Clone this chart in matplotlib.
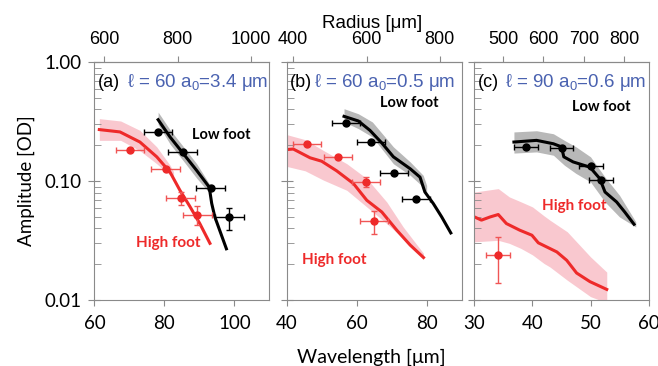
import numpy as np
import matplotlib
matplotlib.use("Agg")
import matplotlib.pyplot as plt
from matplotlib.ticker import LogLocator, NullFormatter, FixedLocator

plt.rcParams['font.family'] = ['Lato', 'DejaVu Sans']
plt.rcParams['mathtext.default'] = 'regular'

RED = '#ee2a2a'
RED_BAND = '#f7b6c0'
GRAY_BAND = '#9a9a9a'
BLUE = '#4a62b0'
SPINE = '#8a8a8a'

# ---- panel (a): l = 60 ----
a_red_x = [61.4, 67.3, 73.0, 77.8, 81.6, 84.4, 87.3, 90.1, 93.0]
a_red_y = [0.271, 0.259, 0.213, 0.160, 0.119, 0.084, 0.061, 0.044, 0.030]
a_redband_x = [61.4, 67.5, 73.0, 77.8, 81.6, 82.6]
a_redband_lo = [0.22, 0.22, 0.18, 0.14, 0.112, 0.108]
a_redband_hi = [0.335, 0.32, 0.267, 0.194, 0.136, 0.120]
a_blk_x = [78.2, 81.6, 85.4, 89.2, 92.8, 93.5, 94.4, 97.7]
a_blk_y = [0.328, 0.235, 0.170, 0.123, 0.089, 0.065, 0.050, 0.027]
a_gray_x = [78.2, 81.6, 85.4, 89.2, 92.8]
a_gray_lo = [0.30, 0.205, 0.148, 0.106, 0.080]
a_gray_hi = [0.38, 0.27, 0.195, 0.140, 0.095]
a_rpt_x = [70.2, 80.4, 84.6, 89.4]
a_rpt_y = [0.181, 0.127, 0.072, 0.052]
a_rpt_ylo = [0.181, 0.127, 0.0625, 0.0425]
a_rpt_yhi = [0.181, 0.127, 0.0813, 0.0616]
a_bpt_x = [78.2, 85.2, 93.2, 98.5]
a_bpt_y = [0.257, 0.176, 0.0877, 0.050]
a_bpt_ylo = [0.257, 0.176, 0.0877, 0.0392]
a_bpt_yhi = [0.257, 0.176, 0.0877, 0.0600]

# ---- panel (b): l = 60 ----
b_red_x = [40.0, 41.9, 46.7, 50.0, 54.3, 59.1, 62.9, 67.2, 71.5, 75.3, 79.1]
b_red_y = [0.184, 0.186, 0.157, 0.147, 0.122, 0.0953, 0.069, 0.055, 0.0386, 0.029, 0.0228]
b_redband_x = [40.0, 45.3, 50.5, 57.2, 62.9, 68.6, 73.3, 79.1]
b_redband_lo = [0.133, 0.122, 0.102, 0.0837, 0.0607, 0.044, 0.033, 0.0224]
b_redband_hi = [0.246, 0.223, 0.181, 0.140, 0.105, 0.0668, 0.0412, 0.0247]
b_blk_x = [56.4, 60.5, 63.8, 67.2, 70.5, 75.3, 78.1, 79.5, 81.9, 84.3, 86.9]
b_blk_y = [0.35, 0.32, 0.267, 0.209, 0.160, 0.127, 0.108, 0.081, 0.0648, 0.050, 0.0367]
b_gray_x = [56.4, 60.5, 64.5, 70.5, 75.3, 79.0, 80.0]
b_gray_lo = [0.314, 0.276, 0.235, 0.140, 0.112, 0.0893, 0.080]
b_gray_hi = [0.406, 0.368, 0.314, 0.194, 0.145, 0.112, 0.092]
b_rpt_x = [45.7, 54.8, 62.7, 65.0]
b_rpt_y = [0.204, 0.160, 0.0984, 0.0463]
b_rpt_ylo = [0.204, 0.160, 0.0893, 0.0358]
b_rpt_yhi = [0.204, 0.160, 0.1085, 0.0561]
b_bpt_x = [56.9, 64.0, 70.8, 77.1]
b_bpt_y = [0.308, 0.213, 0.117, 0.0704]

# ---- panel (c): l = 90 ----
c_red_x = [30.0, 31.2, 32.7, 34.1, 35.5, 37.8, 39.9, 41.0, 44.2, 45.9, 47.6, 49.9, 52.8]
c_red_y = [0.050, 0.047, 0.050, 0.0524, 0.044, 0.0387, 0.0351, 0.0303, 0.0254, 0.0216,
           0.0169, 0.0143, 0.0123]
c_redband_x = [30.0, 34.1, 36.0, 38.0, 40.0, 42.0, 43.0, 46.0, 50.0, 52.8]
c_redband_lo = [0.0309, 0.0318, 0.0300, 0.0272, 0.0240, 0.0203, 0.0190, 0.0147, 0.0107, 0.0095]
c_redband_hi = [0.081, 0.0865, 0.0737, 0.067, 0.0607, 0.051, 0.047, 0.0375, 0.0231, 0.0172]
c_blk_x = [36.8, 40.7, 43.6, 45.0, 45.4, 47.0, 49.9, 51.6, 52.5, 54.5, 55.9, 57.5]
c_blk_y = [0.213, 0.220, 0.206, 0.194, 0.160, 0.145, 0.131, 0.105, 0.081, 0.0668, 0.055, 0.0434]
c_gray_x = [36.8, 40.7, 43.6, 45.5, 47.5, 50.0, 52.5, 55.0, 57.8]
c_gray_lo = [0.172, 0.176, 0.165, 0.136, 0.116, 0.0984, 0.0668, 0.050, 0.0412]
c_gray_hi = [0.259, 0.265, 0.250, 0.220, 0.194, 0.160, 0.108, 0.076, 0.0455]
c_rpt_x = [34.0]
c_rpt_y = [0.0239]
c_rpt_ylo = [0.014]
c_rpt_yhi = [0.034]
c_bpt_x = [38.9, 45.0, 50.1, 51.8]
c_bpt_y = [0.194, 0.190, 0.133, 0.103]

panels = [
    dict(tag='(a)', ell=60, a0='3.4', xlim=(60, 110), xticks=[60, 80, 100],
         rticks=[600, 800, 1000], xerr=4.1,
         red=(a_red_x, a_red_y), redband=(a_redband_x, a_redband_lo, a_redband_hi),
         blk=(a_blk_x, a_blk_y), gray=(a_gray_x, a_gray_lo, a_gray_hi),
         rpt=(a_rpt_x, a_rpt_y, a_rpt_ylo, a_rpt_yhi),
         bpt=(a_bpt_x, a_bpt_y, a_bpt_ylo, a_bpt_yhi),
         low=(0.555, 0.675), high=(0.24, 0.225), blue_x=0.185),
    dict(tag='(b)', ell=60, a0='0.5', xlim=(40, 90), xticks=[40, 60, 80],
         rticks=[400, 600, 800], xerr=4.0,
         red=(b_red_x, b_red_y), redband=(b_redband_x, b_redband_lo, b_redband_hi),
         blk=(b_blk_x, b_blk_y), gray=(b_gray_x, b_gray_lo, b_gray_hi),
         rpt=(b_rpt_x, b_rpt_y, b_rpt_ylo, b_rpt_yhi),
         bpt=(b_bpt_x, b_bpt_y, b_bpt_y, b_bpt_y),
         low=(0.535, 0.81), high=(0.09, 0.15), blue_x=0.155),
    dict(tag='(c)', ell=90, a0='0.6', xlim=(30, 60), xticks=[30, 40, 50, 60],
         rticks=[500, 600, 700, 800], xerr=2.05,
         red=(c_red_x, c_red_y), redband=(c_redband_x, c_redband_lo, c_redband_hi),
         blk=(c_blk_x, c_blk_y), gray=(c_gray_x, c_gray_lo, c_gray_hi),
         rpt=(c_rpt_x, c_rpt_y, c_rpt_ylo, c_rpt_yhi),
         bpt=(c_bpt_x, c_bpt_y, c_bpt_y, c_bpt_y),
         low=(0.56, 0.795), high=(0.39, 0.38), blue_x=0.175),
]

fig = plt.figure(figsize=(6.58, 3.66), dpi=100)
lefts = [0.1435, 0.4356, 0.7211]
widths = [0.266, 0.266, 0.2645]

for i, p in enumerate(panels):
    ax = fig.add_axes([lefts[i], 0.180, widths[i], 0.6503])
    ax.set_yscale('log')
    ax.set_ylim(0.01, 1.0)
    ax.set_xlim(*p['xlim'])

    bx, blo, bhi = p['redband']
    ax.fill_between(bx, blo, bhi, color=RED_BAND, alpha=0.75, lw=0, zorder=1)
    gx, glo, ghi = p['gray']
    ax.fill_between(gx, glo, ghi, color=GRAY_BAND, alpha=0.7, lw=0, zorder=1)
    ax.plot(*p['red'], color=RED, lw=2.2, zorder=2)
    ax.plot(*p['blk'], color='black', lw=2.2, zorder=2)

    rx, ry, rlo, rhi = p['rpt']
    ax.errorbar(rx, ry, xerr=p['xerr'],
                yerr=[np.array(ry) - np.array(rlo), np.array(rhi) - np.array(ry)],
                fmt='o', ms=5, color=RED, ecolor='#f05555', elinewidth=1, capsize=2.5,
                zorder=3)
    kx, ky, klo, khi = p['bpt']
    ax.errorbar(kx, ky, xerr=p['xerr'],
                yerr=[np.array(ky) - np.array(klo), np.array(khi) - np.array(ky)],
                fmt='o', ms=5, color='black', ecolor='black', elinewidth=1, capsize=2.5,
                zorder=3)

    ax.text(p['low'][0], p['low'][1], 'Low foot', transform=ax.transAxes,
            fontsize=10.5, fontweight='bold', color='black')
    ax.text(p['high'][0], p['high'][1], 'High foot', transform=ax.transAxes,
            fontsize=11, fontweight='bold', color=RED)
    ax.text(0.02, 0.915, p['tag'], transform=ax.transAxes, fontsize=13,
            va='center', family=['Liberation Sans', 'DejaVu Sans'])
    ax.text(p['blue_x'], 0.915, '\u2113 = %d a$_0$=%s \u03bcm' % (p['ell'], p['a0']),
            transform=ax.transAxes, fontsize=13.5, va='center', color=BLUE,
            family=['Liberation Sans', 'DejaVu Sans'])

    for s in ax.spines.values():
        s.set_color(SPINE)
    ax.set_xticks(p['xticks'])
    ax.tick_params(axis='x', direction='out', length=4, color=SPINE, labelsize=13.5, pad=7)
    ax.yaxis.set_minor_locator(LogLocator(base=10, subs=np.arange(2, 10)))
    ax.yaxis.set_minor_formatter(NullFormatter())
    ax.tick_params(axis='y', which='major', direction='inout', length=8, color=SPINE,
                   labelsize=13.5, pad=5)
    ax.tick_params(axis='y', which='minor', direction='in', length=5, color=SPINE)
    if i == 0:
        ax.set_yticks([0.01, 0.1, 1.0])
        ax.set_yticklabels(['0.01', '0.10', '1.00'])
        ax.set_ylabel('Amplitude [OD]', fontsize=13.5, labelpad=7)
    else:
        ax.tick_params(axis='y', which='both', labelleft=False)

    k = p['ell'] / (2 * np.pi)
    sec = ax.secondary_xaxis('top', functions=(lambda x, k=k: x * k, lambda r, k=k: r / k))
    sec.xaxis.set_major_locator(FixedLocator(p['rticks']))
    sec.tick_params(direction='out', length=4, color=SPINE, labelsize=13, pad=6)
    for lab in sec.get_xticklabels():
        lab.set_family(['Liberation Sans', 'DejaVu Sans'])
    sec.spines['top'].set_color(SPINE)

fig.text(0.565, 0.935, 'Radius [\u03bcm]', ha='center', va='center', fontsize=13.5,
         family=['Liberation Sans', 'DejaVu Sans'])
fig.text(0.565, 0.024, 'Wavelength [\u03bcm]', ha='center', va='center', fontsize=14)

fig.savefig('out.png', dpi=100)
